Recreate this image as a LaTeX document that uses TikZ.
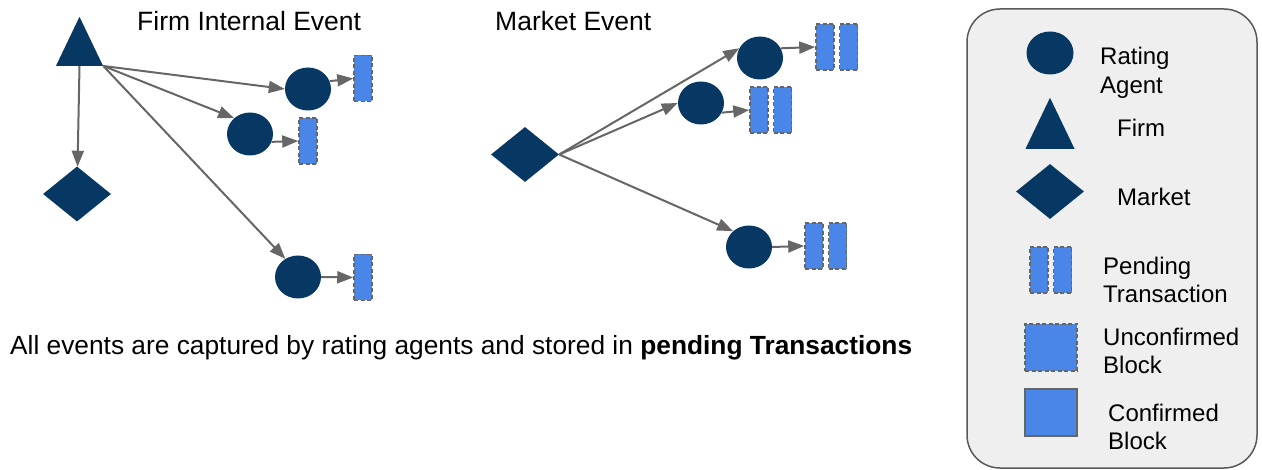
\documentclass[tikz,border=0pt]{standalone}
\usepackage{fontspec}
\setmainfont{Liberation Sans}
\usetikzlibrary{positioning,arrows.meta,shapes.geometric}
\definecolor{agentNavy}{HTML}{073763}
\definecolor{txBlue}{HTML}{4A86E8}
\definecolor{linkGray}{HTML}{666666}
\definecolor{legendFill}{HTML}{EFEFEF}
\definecolor{legendEdge}{HTML}{595959}

\begin{document}
\begin{tikzpicture}[x=1pt, y=-1pt, >={Triangle[length=16pt,width=12pt]},
    agent/.style={ellipse, fill=agentNavy, minimum width=46pt, minimum height=43pt, inner sep=0pt},
    firm/.style={isosceles triangle, isosceles triangle stretches, shape border rotate=90, fill=agentNavy, minimum width=#1, minimum height=49pt, inner sep=0pt, anchor=south},
    market/.style={diamond, fill=agentNavy, minimum width=68pt, minimum height=55pt, inner sep=0pt},
    txbox/.style={fill=txBlue, draw=linkGray, dash pattern=on 4pt off 2.5pt, line width=1.5pt, minimum width=18pt, minimum height=46pt, inner sep=0pt},
    link/.style={->, draw=linkGray, line width=2pt},
    title/.style={anchor=west, inner sep=0pt, font=\fontsize{26.5}{32}\selectfont},
    legendtext/.style={anchor=west, align=left, inner sep=0pt, font=\fontsize{24}{28.5}\selectfont}]
  \useasboundingbox (0,0) rectangle (1262,470);

  \node[draw=legendEdge, line width=1.5pt, fill=legendFill, rounded corners=33pt, minimum width=290pt, minimum height=459pt] (legend) at (1112,238.5) {};

  \node[title] (firmtitle) at (137,21) {Firm Internal Event};
  \node[title] (markettitle) at (495,21) {Market Event};

  \node[firm=47pt] (firm) at (79.5,66) {};
  \node[market] (fmarket) at (77,194) {};
  \node[agent] (a1) at (308,89) {};
  \node[agent] (a2) at (250,134) {};
  \node[agent] (a3) at (298,277) {};
  \node[txbox] (p1) at (363,78.5) {};
  \node[txbox] (p2) at (308,141) {};
  \node[txbox] (p3) at (363,277.5) {};

  \draw[link] (firm.south) -- (fmarket);
  \draw[link] (firm.right corner) -- (a1.west);
  \draw[link] (firm.right corner) -- (a2.135);
  \draw[link] (firm.right corner) -- (a3.125);
  \draw[link] (a1.20) -- (p1.west);
  \draw[link] (a2.-20) -- (p2.west);
  \draw[link] (a3.east) -- (p3.west);

  \node[market] (mkt) at (525,154.5) {};
  \node[agent] (m1) at (760,58) {};
  \node[agent] (m2) at (701,103) {};
  \node[agent] (m3) at (749,247) {};
  \node[txbox] (q1a) at (825,47) {};
  \node[txbox, right=4pt of q1a] (q1b) {};
  \node[txbox] (q2a) at (759,110) {};
  \node[txbox, right=4pt of q2a] (q2b) {};
  \node[txbox] (q3a) at (814,246) {};
  \node[txbox, right=4pt of q3a] (q3b) {};

  \draw[link] (mkt.east) -- (m1.155);
  \draw[link] (mkt.east) -- (m2.west);
  \draw[link] (mkt.east) -- (m3.135);
  \draw[link] (m1.25) -- (q1a.west);
  \draw[link] (m2.-25) -- (q2a.west);
  \draw[link] (m3.east) -- (q3a.west);

  \node[anchor=west, inner sep=0pt, font=\fontsize{26.3}{32}\selectfont] (caption) at (10,348) {All events are captured by rating agents and stored in \textbf{pending Transactions}};

  \node[agent, minimum width=47pt] (lagent) at (1050,53) {};
  \node[legendtext] (lagenttext) at (1100,73) {Rating\\Agent};
  \node[firm=49pt, minimum height=51pt] (lfirm) at (1050,149) {};
  \node[legendtext] (lfirmtext) at (1117,128) {Firm};
  \node[market] (lmarket) at (1050,191.5) {};
  \node[legendtext] (lmarkettext) at (1117,197) {Market};
  \node[txbox] (lta) at (1039,270) {};
  \node[txbox, right=4pt of lta] (ltb) {};
  \node[legendtext] (lttext) at (1103,280) {Pending\\Transaction};
  \node[txbox, minimum width=52pt, minimum height=47pt] (lunconf) at (1051,347.5) {};
  \node[legendtext] (lunconftext) at (1103,351) {Unconfirmed\\Block};
  \node[fill=txBlue, draw=linkGray, line width=1.5pt, minimum width=52pt, minimum height=47pt, inner sep=0pt] (lconf) at (1051,412.5) {};
  \node[legendtext] (lconftext) at (1108,427) {Confirmed\\Block};
\end{tikzpicture}
\end{document}
